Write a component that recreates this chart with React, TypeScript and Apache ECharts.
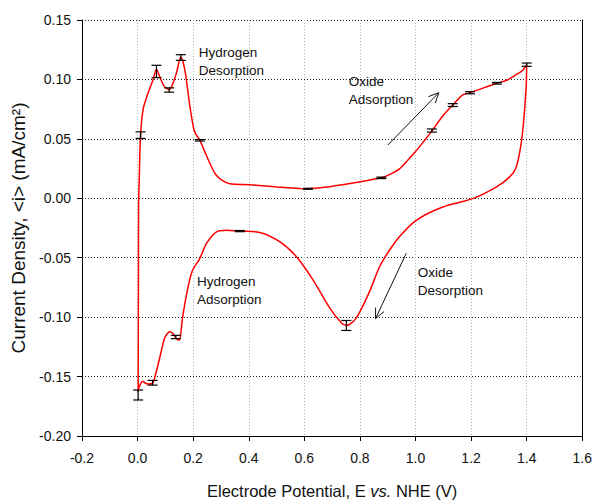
import React, { useEffect, useRef } from "react";
import * as echarts from "echarts";

// Anodic (positive-going) sweep: potential (V) and current density (mA/cm²)
const anodicE = [0.002, 0.003, 0.0036, 0.006, 0.0107, 0.020, 0.038, 0.056, 0.068, 0.080, 0.092, 0.104, 0.1136, 0.126, 0.140, 0.1556, 0.170, 0.188, 0.2023, 0.212, 0.224, 0.248, 0.284, 0.332, 0.404, 0.500, 0.583, 0.613, 0.691, 0.780, 0.877, 0.910, 0.942, 0.972, 1.0025, 1.030, 1.059, 1.098, 1.134, 1.170, 1.196, 1.240, 1.293, 1.330, 1.362, 1.385, 1.400];
const anodicI = [-0.162, -0.080, -0.006, 0.0164, 0.053, 0.0749, 0.0888, 0.0999, 0.1085, 0.102, 0.0957, 0.0925, 0.0916, 0.096, 0.1055, 0.1189, 0.108, 0.0776, 0.0581, 0.053, 0.049, 0.0358, 0.0191, 0.0122, 0.0114, 0.0095, 0.0082, 0.0080, 0.0098, 0.0130, 0.0172, 0.0203, 0.0247, 0.032, 0.040, 0.048, 0.0567, 0.0693, 0.0785, 0.0870, 0.0888, 0.0925, 0.0968, 0.0995, 0.1040, 0.1075, 0.1124];

// Cathodic (negative-going) sweep
const cathodicE = [1.400, 1.398, 1.389, 1.380, 1.362, 1.338, 1.290, 1.206, 1.098, 1.0025, 0.942, 0.907, 0.871, 0.835, 0.787, 0.751, 0.733, 0.691, 0.631, 0.571, 0.511, 0.4395, 0.3676, 0.320, 0.284, 0.248, 0.224, 0.196, 0.176, 0.1617, 0.1496, 0.1376, 0.128, 0.116, 0.098, 0.080, 0.062, 0.054, 0.038, 0.025, 0.018, 0.010, 0.004, 0.002];
const cathodicI = [0.1124, 0.093, 0.065, 0.0456, 0.026, 0.0178, 0.0094, -0.0003, -0.0073, -0.0185, -0.0323, -0.0435, -0.0574, -0.0783, -0.1006, -0.1070, -0.1048, -0.0922, -0.0686, -0.0490, -0.0365, -0.0287, -0.0276, -0.0268, -0.0282, -0.0380, -0.0505, -0.0616, -0.0811, -0.1006, -0.1195, -0.1175, -0.1140, -0.1123, -0.1173, -0.1340, -0.1507, -0.1555, -0.1563, -0.1550, -0.1540, -0.1565, -0.1600, -0.1630];

// Error bars: potential, mean current, half-range
const errE = [0.0107, 0.068, 0.1136, 0.1556, 0.224, 0.613, 0.877, 1.059, 1.134, 1.196, 1.293, 1.400, 0.751, 0.3676, 0.1376, 0.054, 0.002];
const errI = [0.0531, 0.1067, 0.0911, 0.1184, 0.0488, 0.0080, 0.0172, 0.0570, 0.0784, 0.0888, 0.0968, 0.1124, -0.1070, -0.0276, -0.1167, -0.1552, -0.1655];
const errD = [0.0028, 0.0052, 0.0018, 0.0024, 0.0006, 0.0004, 0.0006, 0.0013, 0.0012, 0.0009, 0.0007, 0.0014, 0.0042, 0.0005, 0.0014, 0.0020, 0.0042];

// Annotations: text, anchor (left, first-line centre) in data units
const noteTexts = ["Hydrogen\nDesorption", "Oxide\nAdsorption", "Hydrogen\nAdsorption", "Oxide\nDesorption"];
const noteE = [0.220, 0.760, 0.214, 1.008];
const noteI = [0.1227, 0.0985, -0.0699, -0.0624];

// Arrows: from -> to (data units)
const arrowFrom = [[0.9005, 0.0448], [0.9666, -0.0463]];
const arrowTo = [[1.0837, 0.0888], [0.8563, -0.1012]];

const FONT = "'Liberation Sans', Arial, Helvetica, sans-serif";

export default function App() {
  const ref = useRef<HTMLDivElement>(null);
  useEffect(() => {
    document.body.style.margin = "0";
    const chart = echarts.init(ref.current as HTMLDivElement, null, { renderer: "svg" });
    const pairs = (xs: number[], ys: number[]) => xs.map((x, i) => [x, ys[i]]);
    const red = "#ff0000";
    chart.setOption({
      animation: false,
      backgroundColor: "#ffffff",
      textStyle: { fontFamily: FONT },
      grid: { left: 82, right: 12, top: 20, bottom: 65, containLabel: false },
      xAxis: {
        type: "value",
        min: -0.2,
        max: 1.6,
        interval: 0.2,
        name: "{a|Electrode Potential, E }{i|vs.}{a| NHE (V)}",
        nameLocation: "middle",
        nameGap: 46,
        nameTextStyle: {
          rich: {
            a: { fontSize: 16.5, fontFamily: FONT, color: "#111" },
            i: { fontSize: 16.5, fontFamily: FONT, fontStyle: "italic", color: "#111" },
          },
        },
        axisLine: { onZero: false, lineStyle: { color: "#000", width: 1 } },
        axisTick: { show: true, inside: false, length: 5, lineStyle: { color: "#000" } },
        axisLabel: {
          fontSize: 14,
          fontFamily: FONT,
          color: "#111",
          margin: 15,
          formatter: (v: number) => (Math.abs(v) < 1e-9 ? 0 : v).toFixed(1),
        },
        splitLine: { show: true, lineStyle: { color: "#b4b4b4", type: [1, 2], width: 1 } },
      },
      yAxis: [
        {
          type: "value",
          min: -0.2,
          max: 0.15,
          interval: 0.05,
          name: "Current Density, <i> (mA/cm²)",
          nameLocation: "middle",
          nameRotate: 90,
          nameGap: 51,
          nameTextStyle: { fontSize: 19, fontFamily: FONT, color: "#111" },
          axisLine: { show: true, onZero: false, lineStyle: { color: "#000", width: 1 } },
          axisTick: { show: true, inside: false, length: 5, lineStyle: { color: "#000" } },
          axisLabel: {
            fontSize: 14,
            fontFamily: FONT,
            color: "#111",
            margin: 11,
            formatter: (v: number) => (Math.abs(v) < 1e-9 ? 0 : v).toFixed(2),
          },
          splitLine: { show: true, lineStyle: { color: "#222", type: [1, 2], width: 1 } },
        },
        {
          type: "value",
          position: "right",
          min: -0.2,
          max: 0.15,
          interval: 0.05,
          axisLine: { show: true, onZero: false, lineStyle: { color: "#000", width: 1 } },
          axisTick: { show: false },
          axisLabel: { show: false },
          splitLine: { show: false },
        },
      ],
      series: [
        {
          type: "line",
          data: pairs(anodicE, anodicI),
          showSymbol: false,
          symbol: "none",
          smooth: 0.3,
          lineStyle: { color: red, width: 1.5 },
          z: 3,
        },
        {
          type: "line",
          data: pairs(cathodicE, cathodicI),
          showSymbol: false,
          symbol: "none",
          smooth: 0.3,
          lineStyle: { color: red, width: 1.5 },
          z: 3,
        },
        {
          type: "custom",
          data: errE.map((x, i) => [x, errI[i], errD[i]]),
          encode: { x: 0, y: 1 },
          z: 5,
          renderItem: (_p: any, api: any) => {
            const x = api.value(0);
            const y = api.value(1);
            const d = api.value(2);
            const t = api.coord([x, y + d]);
            const b = api.coord([x, y - d]);
            const hw = 5;
            const st = { stroke: "#000", lineWidth: 1.2 };
            return {
              type: "group",
              children: [
                { type: "line", shape: { x1: t[0], y1: t[1], x2: b[0], y2: b[1] }, style: st },
                { type: "line", shape: { x1: t[0] - hw, y1: t[1], x2: t[0] + hw, y2: t[1] }, style: st },
                { type: "line", shape: { x1: b[0] - hw, y1: b[1], x2: b[0] + hw, y2: b[1] }, style: st },
              ],
            };
          },
        },
      ],
    });

    const px = (p: number[]) => chart.convertToPixel({ seriesIndex: 0 }, p) as number[];
    const graphics: any[] = [];
    noteTexts.forEach((txt, i) => {
      const p = px([noteE[i], noteI[i]]);
      graphics.push({
        type: "text",
        x: p[0],
        y: p[1] - 9,
        z: 10,
        style: {
          text: txt,
          fontSize: 13.5,
          fontFamily: FONT,
          fill: "#111",
          lineHeight: 18,
          align: "left",
          verticalAlign: "top",
        },
      });
    });
    arrowFrom.forEach((f, i) => {
      const a = px(f);
      const b = px(arrowTo[i]);
      const ang = Math.atan2(b[1] - a[1], b[0] - a[0]);
      const L = 11;
      const s = 0.44;
      const h1 = [b[0] - L * Math.cos(ang - s), b[1] - L * Math.sin(ang - s)];
      const h2 = [b[0] - L * Math.cos(ang + s), b[1] - L * Math.sin(ang + s)];
      graphics.push({
        type: "line",
        z: 10,
        shape: { x1: a[0], y1: a[1], x2: b[0], y2: b[1] },
        style: { stroke: "#111", lineWidth: 1 },
      });
      graphics.push({
        type: "polyline",
        z: 10,
        shape: { points: [h1, b, h2] },
        style: { stroke: "#111", fill: "none", lineWidth: 1 },
      });
    });
    chart.setOption({ graphic: graphics });

    return () => {
      chart.dispose();
    };
  }, []);
  return <div ref={ref} style={{ width: 595, height: 504 }} />;
}
